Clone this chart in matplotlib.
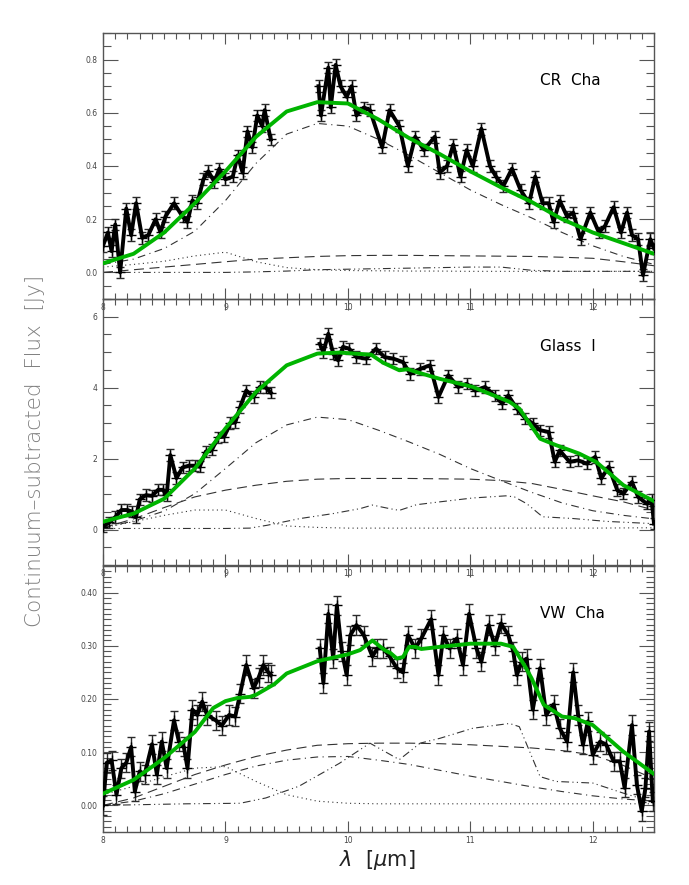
import numpy as np
import matplotlib
matplotlib.use('Agg')
import matplotlib.pyplot as plt
from matplotlib.ticker import MultipleLocator, FormatStrFormatter

# common wavelength grid of the smooth model components
mx = [8.0, 8.25, 8.5, 8.75, 9.0, 9.25, 9.5, 9.75, 10.0, 10.25, 10.5, 10.75,
      11.0, 11.25, 11.5, 11.75, 12.0, 12.25, 12.5]

# ---------------- CR Cha ----------------
cr_x_a = [8.00, 8.04, 8.07, 8.10, 8.14, 8.19, 8.23, 8.27, 8.32, 8.37, 8.43, 8.47,
          8.51, 8.58, 8.65, 8.69, 8.73, 8.77, 8.82, 8.86, 8.91, 8.95, 9.00, 9.06,
          9.10, 9.14, 9.18, 9.22, 9.26, 9.30, 9.32, 9.37]
cr_y_a = [0.10, 0.15, 0.08, 0.18, 0.00, 0.24, 0.14, 0.26, 0.13, 0.14, 0.20, 0.15,
          0.21, 0.26, 0.21, 0.19, 0.27, 0.26, 0.35, 0.38, 0.34, 0.39, 0.35, 0.36,
          0.44, 0.375, 0.53, 0.47, 0.59, 0.55, 0.61, 0.50]
cr_x_b = [9.76, 9.78, 9.84, 9.86, 9.90, 9.94, 9.99, 10.03, 10.07, 10.13, 10.18, 10.28,
          10.34, 10.42, 10.49, 10.55, 10.62, 10.71, 10.75, 10.81, 10.86, 10.92, 10.97,
          11.02, 11.09, 11.16, 11.21, 11.27, 11.34, 11.41, 11.48, 11.53, 11.59, 11.64,
          11.68, 11.73, 11.79, 11.84, 11.90, 11.98, 12.05, 12.10, 12.17, 12.23, 12.28,
          12.32, 12.37, 12.41, 12.47, 12.50]
cr_y_b = [0.70, 0.59, 0.77, 0.62, 0.78, 0.70, 0.66, 0.70, 0.59, 0.62, 0.61, 0.47,
          0.61, 0.55, 0.40, 0.51, 0.46, 0.51, 0.375, 0.40, 0.48, 0.36, 0.46,
          0.40, 0.54, 0.40, 0.36, 0.325, 0.39, 0.31, 0.26, 0.36, 0.26, 0.26,
          0.19, 0.27, 0.21, 0.225, 0.125, 0.225, 0.15, 0.175, 0.245, 0.15, 0.225,
          0.14, 0.125, -0.01, 0.125, 0.09]
cr_err = 0.022
cr_fit = [0.034, 0.07, 0.15, 0.26, 0.38, 0.51, 0.605, 0.64, 0.635, 0.575, 0.505, 0.445,
          0.38, 0.32, 0.265, 0.2, 0.15, 0.11, 0.07]
cr_dashdot = [0.03, 0.05, 0.09, 0.155, 0.27, 0.41, 0.52, 0.56, 0.55, 0.5, 0.44, 0.375,
              0.31, 0.255, 0.205, 0.15, 0.1, 0.06, 0.03]
cr_dashed = [0.0, 0.01, 0.02, 0.03, 0.04, 0.05, 0.055, 0.06, 0.063, 0.064, 0.064, 0.063,
             0.062, 0.061, 0.06, 0.057, 0.053, 0.04, 0.025]
cr_dotted = [0.02, 0.03, 0.042, 0.062, 0.076, 0.04, 0.018, 0.01, 0.007, 0.006, 0.005, 0.005,
             0.004, 0.004, 0.004, 0.004, 0.004, 0.004, 0.004]
cr_dashdotdot = [0.0, 0.0, 0.0, 0.0, 0.0, 0.002, 0.005, 0.01, 0.012, 0.014, 0.016, 0.018,
                 0.02, 0.02, 0.008, 0.004, 0.004, 0.004, 0.004]

# ---------------- Glass I ----------------
gl_x_a = [8.00, 8.05, 8.10, 8.15, 8.20, 8.24, 8.27, 8.30, 8.35, 8.40, 8.45, 8.49, 8.52,
          8.55, 8.60, 8.65, 8.70, 8.75, 8.79, 8.84, 8.89, 8.94, 8.99, 9.04, 9.08, 9.12,
          9.17, 9.23, 9.28, 9.33, 9.37]
gl_y_a = [0.08, 0.2, 0.35, 0.55, 0.55, 0.5, 0.35, 0.85, 0.97, 0.95, 1.12, 1.12, 0.97,
          2.1, 1.45, 1.75, 1.8, 1.8, 1.77, 2.2, 2.25, 2.6, 2.62, 3.0, 3.02, 3.45,
          3.92, 3.74, 4.02, 4.0, 3.86]
gl_x_b = [9.77, 9.80, 9.84, 9.88, 9.92, 9.96, 10.01, 10.07, 10.15, 10.23, 10.30, 10.37,
          10.45, 10.51, 10.59, 10.67, 10.74, 10.82, 10.90, 10.97, 11.04, 11.12, 11.20,
          11.26, 11.31, 11.38, 11.45, 11.51, 11.57, 11.64, 11.69, 11.73, 11.81, 11.88,
          11.95, 12.02, 12.07, 12.13, 12.20, 12.25, 12.32, 12.37, 12.44, 12.48, 12.50]
gl_y_b = [5.24, 5.0, 5.52, 4.96, 4.77, 5.15, 5.1, 4.86, 4.82, 5.1, 4.86, 4.82,
          4.72, 4.39, 4.53, 4.63, 3.74, 4.35, 4.02, 4.11, 3.92, 4.02, 3.78,
          3.55, 3.78, 3.41, 3.13, 2.99, 2.8, 2.75, 1.91, 2.23, 1.91, 1.95,
          1.86, 2.05, 1.44, 1.77, 1.11, 1.01, 1.34, 0.92, 0.73, 0.83, 0.17]
gl_err = 0.16
gl_fit_x = [8.0, 8.25, 8.5, 8.75, 9.0, 9.25, 9.5, 9.75, 9.93, 10.19, 10.29, 10.42, 10.49,
            10.56, 10.75, 11.02, 11.32, 11.4, 11.57, 11.7, 11.89, 12.03, 12.25, 12.5]
gl_fit = [0.22, 0.45, 0.87, 1.72, 2.85, 3.88, 4.63, 4.96, 4.99, 4.93, 4.7, 4.49, 4.52,
          4.44, 4.25, 4.02, 3.6, 3.41, 2.56, 2.38, 2.14, 1.9, 1.25, 0.8]
gl_dashdot = [0.05, 0.24, 0.52, 1.01, 1.72, 2.45, 2.95, 3.17, 3.1, 2.8, 2.47, 2.12,
              1.72, 1.38, 1.05, 0.75, 0.53, 0.4, 0.3]
gl_dashed = [0.05, 0.3, 0.62, 0.92, 1.11, 1.25, 1.36, 1.42, 1.44, 1.44, 1.44, 1.43,
             1.42, 1.38, 1.3, 1.13, 0.95, 0.78, 0.55]
gl_dotted = [0.05, 0.22, 0.4, 0.55, 0.55, 0.31, 0.1, 0.06, 0.04, 0.04, 0.04, 0.04,
             0.04, 0.04, 0.04, 0.04, 0.04, 0.045, 0.05]
gl_ddd_x = [8.0, 8.5, 9.0, 9.2, 9.34, 9.61, 9.88, 10.1, 10.2, 10.34, 10.42, 10.56, 10.75,
            11.02, 11.29, 11.36, 11.46, 11.59, 11.84, 12.11, 12.47]
gl_ddd = [0.03, 0.03, 0.03, 0.04, 0.12, 0.31, 0.45, 0.59, 0.69, 0.59, 0.54, 0.7, 0.78,
          0.89, 0.95, 0.92, 0.73, 0.36, 0.31, 0.23, 0.17]

# ---------------- VW Cha ----------------
vw_x_a = [8.00, 8.03, 8.07, 8.11, 8.15, 8.19, 8.23, 8.26, 8.30, 8.34, 8.40, 8.44, 8.48,
          8.52, 8.58, 8.62, 8.66, 8.69, 8.73, 8.77, 8.81, 8.85, 8.92, 8.97, 9.03, 9.08,
          9.12, 9.17, 9.23, 9.27, 9.31, 9.35, 9.37]
vw_y_a = [0.0, 0.08, 0.085, 0.02, 0.07, 0.08, 0.11, 0.026, 0.064, 0.058, 0.115, 0.058, 0.12,
          0.07, 0.16, 0.12, 0.11, 0.07, 0.18, 0.17, 0.195, 0.17, 0.16, 0.15, 0.17, 0.167,
          0.21, 0.264, 0.22, 0.24, 0.264, 0.25, 0.245]
vw_x_b = [9.77, 9.80, 9.84, 9.88, 9.91, 9.95, 9.99, 10.02, 10.07, 10.13, 10.20, 10.24,
          10.29, 10.34, 10.40, 10.45, 10.49, 10.55, 10.60, 10.68, 10.74, 10.78, 10.83,
          10.89, 10.94, 10.99, 11.05, 11.09, 11.15, 11.20, 11.25, 11.31, 11.35, 11.38,
          11.42, 11.46, 11.51, 11.57, 11.62, 11.68, 11.73, 11.79, 11.84, 11.88, 11.92,
          11.96, 12.00, 12.06, 12.11, 12.17, 12.22, 12.26, 12.32, 12.36, 12.40, 12.43,
          12.46, 12.49]
vw_y_b = [0.295, 0.23, 0.36, 0.276, 0.376, 0.29, 0.245, 0.32, 0.339, 0.32, 0.28, 0.295,
          0.295, 0.28, 0.258, 0.25, 0.32, 0.295, 0.314, 0.35, 0.245, 0.32, 0.295,
          0.314, 0.264, 0.36, 0.295, 0.27, 0.339, 0.3, 0.342, 0.32, 0.29, 0.245,
          0.27, 0.276, 0.18, 0.258, 0.17, 0.19, 0.145, 0.12, 0.25, 0.17, 0.114,
          0.158, 0.095, 0.12, 0.114, 0.083, 0.083, 0.033, 0.151, 0.039, -0.011, 0.033,
          0.139, 0.008]
vw_err = 0.018
vw_fit_x = [8.0, 8.25, 8.5, 8.75, 8.9, 9.0, 9.1, 9.2, 9.25, 9.4, 9.5, 9.75, 10.0, 10.1,
            10.2, 10.3, 10.35, 10.4, 10.45, 10.5, 10.55, 10.6, 10.75, 11.0, 11.25, 11.35,
            11.45, 11.5, 11.6, 11.75, 11.85, 12.0, 12.25, 12.5]
vw_fit = [0.022, 0.048, 0.089, 0.138, 0.183, 0.196, 0.202, 0.204, 0.208, 0.228, 0.248,
          0.271, 0.284, 0.292, 0.31, 0.292, 0.286, 0.276, 0.279, 0.298, 0.298, 0.294,
          0.298, 0.304, 0.304, 0.298, 0.26, 0.239, 0.189, 0.167, 0.164, 0.151, 0.101, 0.059]
vw_dashed = [0.0, 0.014, 0.036, 0.058, 0.076, 0.092, 0.104, 0.113, 0.116, 0.117, 0.117, 0.116,
             0.114, 0.111, 0.108, 0.103, 0.095, 0.075, 0.05]
vw_dashdot = [0.0, 0.008, 0.022, 0.04, 0.058, 0.074, 0.085, 0.091, 0.092, 0.085, 0.077, 0.066,
              0.055, 0.045, 0.035, 0.026, 0.018, 0.012, 0.008]
vw_dotted = [0.02, 0.036, 0.054, 0.07, 0.073, 0.045, 0.02, 0.008, 0.004, 0.003, 0.003, 0.003,
             0.003, 0.003, 0.003, 0.003, 0.003, 0.003, 0.003]
vw_ddd_x = [8.0, 8.68, 9.12, 9.33, 9.6, 9.93, 10.18, 10.42, 10.59, 10.75, 11.02, 11.32,
            11.4, 11.57, 11.7, 12.0, 12.25, 12.47]
vw_ddd = [0.0, 0.003, 0.004, 0.014, 0.036, 0.079, 0.117, 0.086, 0.117, 0.126, 0.145, 0.154,
          0.148, 0.054, 0.045, 0.042, 0.023, 0.0075]

names = ['CR  Cha', 'Glass  I', 'VW  Cha']

# стили компонент
LS_DASHDOT = (0, (7, 4, 1, 4))
LS_DASHED = (0, (9, 5))
LS_DOTTED = (0, (1, 3))
LS_DDD = (0, (7, 3, 1, 3, 1, 3))
GREEN = '#00b400'
AXC = '#555555'


def draw_panel(ax, segs, err, fit_x, fit_y, comps, name):
    for sx, sy in segs:
        ax.errorbar(sx, sy, yerr=err, fmt='-', color='black', lw=2.8, marker='+',
                    ms=7, mew=1.0, ecolor='#2a2a2a', elinewidth=1.0, capsize=3,
                    capthick=0.9, zorder=3)
    for cx, cy, ls in comps:
        ax.plot(cx, cy, color='#333333', lw=0.8, ls=ls, zorder=2)
    ax.plot(fit_x, fit_y, color=GREEN, lw=2.8, zorder=4)
    ax.text(0.793, 0.82, name, transform=ax.transAxes, fontsize=11,
            va='center', ha='left', color='black')


fig = plt.figure(figsize=(6.89, 8.85), dpi=100)
left, width = 103 / 689, 551 / 689
h = 266 / 885
bottoms = [1 - 299 / 885, 1 - 565 / 885, 1 - 832 / 885]
axes = [fig.add_axes([left, b, width, h]) for b in bottoms]

draw_panel(axes[0], [(cr_x_a, cr_y_a), (cr_x_b, cr_y_b)], cr_err, mx, cr_fit,
           [(mx, cr_dashdot, LS_DASHDOT), (mx, cr_dashed, LS_DASHED),
            (mx, cr_dotted, LS_DOTTED), (mx, cr_dashdotdot, LS_DDD)], names[0])
draw_panel(axes[1], [(gl_x_a, gl_y_a), (gl_x_b, gl_y_b)], gl_err, gl_fit_x, gl_fit,
           [(mx, gl_dashdot, LS_DASHDOT), (mx, gl_dashed, LS_DASHED),
            (mx, gl_dotted, LS_DOTTED), (gl_ddd_x, gl_ddd, LS_DDD)], names[1])
draw_panel(axes[2], [(vw_x_a, vw_y_a), (vw_x_b, vw_y_b)], vw_err, vw_fit_x, vw_fit,
           [(mx, vw_dashdot, LS_DASHDOT), (mx, vw_dashed, LS_DASHED),
            (mx, vw_dotted, LS_DOTTED), (vw_ddd_x, vw_ddd, LS_DDD)], names[2])

ylims = [(-0.1, 0.9), (-1.0, 6.5), (-0.05, 0.45)]
ymaj = [0.2, 2, 0.1]
ymin = [0.05, 0.5, 0.01]
yfmt = ['%.1f', '%d', '%.2f']

for ax, yl, ma, mi, fm in zip(axes, ylims, ymaj, ymin, yfmt):
    ax.set_facecolor('none')
    ax.set_xlim(8, 12.5)
    ax.set_ylim(*yl)
    ax.xaxis.set_major_locator(MultipleLocator(1))
    ax.xaxis.set_minor_locator(MultipleLocator(0.1))
    ax.yaxis.set_major_locator(MultipleLocator(ma))
    ax.yaxis.set_minor_locator(MultipleLocator(mi))
    ax.yaxis.set_major_formatter(FormatStrFormatter(fm))
    ax.tick_params(which='both', direction='in', top=True, right=True, colors=AXC,
                   labelcolor='#444444', labelsize=5.5, width=0.8)
    ax.tick_params(which='major', axis='y', length=11, pad=4)
    ax.tick_params(which='minor', axis='y', length=6)
    ax.tick_params(which='major', axis='x', length=8, pad=3)
    ax.tick_params(which='minor', axis='x', length=4)
    for sp in ax.spines.values():
        sp.set_color(AXC)
        sp.set_linewidth(1.0)

fig.text(0.051, 0.49, 'Continuum\u2013subtracted  Flux  [Jy]', rotation=90,
         ha='center', va='center', fontsize=15.5, color='#808080', fontweight='light')
fig.text(0.548, 0.028, r'$\lambda$  [$\mu$m]', ha='center', va='center',
         fontsize=15, color='#222222')

fig.savefig('out.png', dpi=100)
